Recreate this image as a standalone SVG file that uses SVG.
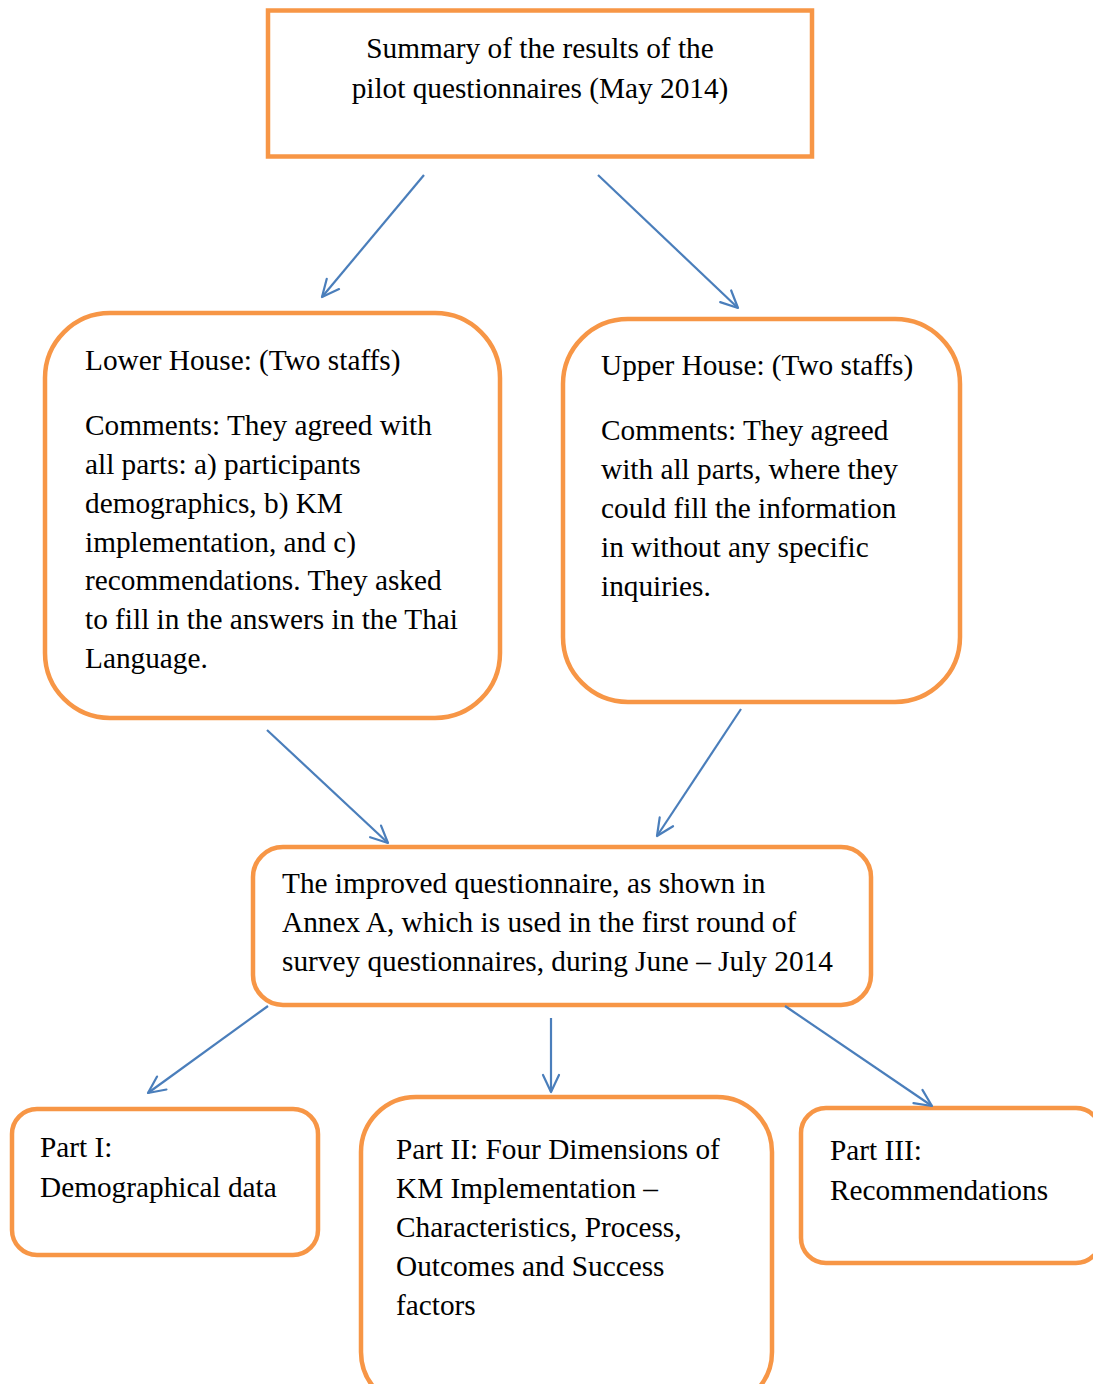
<svg xmlns="http://www.w3.org/2000/svg" width="1093" height="1384" viewBox="0 0 1093 1384">
  <style>
    .box { fill: #ffffff; stroke: #F79646; stroke-width: 4.5; }
    .txt { font-family: "Liberation Serif", "Times New Roman", serif; font-size: 29.3px; fill: #000000; }
    .mid { text-anchor: middle; }
    .conn { stroke: #4A7EBB; stroke-width: 2.2; fill: none; marker-end: url(#arrow); }
  </style>
  <defs>
    <!-- open V arrowhead used on every connector -->
    <marker id="arrow" markerUnits="userSpaceOnUse" markerWidth="22" markerHeight="22" viewBox="0 0 22 22" refX="20" refY="11" orient="auto">
      <path d="M3,3 L20,11 L3,19" fill="none" stroke="#4A7EBB" stroke-width="2.2" stroke-linecap="round" stroke-linejoin="round"/>
    </marker>
  </defs>
  <rect width="1093" height="1384" fill="#ffffff"/>

  <g id="summary">
    <rect class="box" x="268" y="10.5" width="544" height="146"/>
    <text class="txt mid" x="540" y="58">Summary of the results of the</text>
    <text class="txt mid" x="540" y="98">pilot questionnaires (May 2014)</text>
  </g>

  <g id="lower-house">
    <rect class="box" x="45" y="313" width="455" height="405" rx="65" ry="65"/>
    <text class="txt" x="85" y="370">Lower House: (Two staffs)</text>
    <text class="txt" x="85" y="435">Comments: They agreed with</text>
    <text class="txt" x="85" y="474">all parts: a) participants</text>
    <text class="txt" x="85" y="513">demographics, b) KM</text>
    <text class="txt" x="85" y="552">implementation, and c)</text>
    <text class="txt" x="85" y="590">recommendations. They asked</text>
    <text class="txt" x="85" y="629">to fill in the answers in the Thai</text>
    <text class="txt" x="85" y="668">Language.</text>
  </g>

  <g id="upper-house">
    <rect class="box" x="563" y="319" width="397" height="383" rx="65" ry="65"/>
    <text class="txt" x="601" y="375">Upper House: (Two staffs)</text>
    <text class="txt" x="601" y="440">Comments: They agreed</text>
    <text class="txt" x="601" y="479">with all parts, where they</text>
    <text class="txt" x="601" y="518">could fill the information</text>
    <text class="txt" x="601" y="557">in without any specific</text>
    <text class="txt" x="601" y="596">inquiries.</text>
  </g>

  <g id="improved-questionnaire">
    <rect class="box" x="253" y="847" width="618" height="158" rx="30" ry="30"/>
    <text class="txt" x="282" y="893">The improved questionnaire, as shown in</text>
    <text class="txt" x="282" y="932">Annex A, which is used in the first round of</text>
    <text class="txt" x="282" y="971">survey questionnaires, during June – July 2014</text>
  </g>

  <g id="part-1">
    <rect class="box" x="12" y="1109" width="306" height="146" rx="25" ry="25"/>
    <text class="txt" x="40" y="1157">Part I:</text>
    <text class="txt" x="40" y="1197">Demographical data</text>
  </g>

  <g id="part-2">
    <rect class="box" x="361" y="1097" width="411" height="310" rx="55" ry="55"/>
    <text class="txt" x="396" y="1159">Part II: Four Dimensions of</text>
    <text class="txt" x="396" y="1198">KM Implementation –</text>
    <text class="txt" x="396" y="1237">Characteristics, Process,</text>
    <text class="txt" x="396" y="1276">Outcomes and Success</text>
    <text class="txt" x="396" y="1315">factors</text>
  </g>

  <g id="part-3">
    <rect class="box" x="801" y="1108" width="300" height="155" rx="25" ry="25"/>
    <text class="txt" x="830" y="1160">Part III:</text>
    <text class="txt" x="830" y="1200">Recommendations</text>
  </g>

  <g id="connectors">
    <line class="conn" x1="424" y1="175" x2="322" y2="297"/>
    <line class="conn" x1="598" y1="175" x2="738" y2="308"/>
    <line class="conn" x1="267" y1="730" x2="388" y2="843"/>
    <line class="conn" x1="741" y1="709" x2="657" y2="836"/>
    <line class="conn" x1="268" y1="1006" x2="148" y2="1093"/>
    <line class="conn" x1="551" y1="1018" x2="551" y2="1092"/>
    <line class="conn" x1="785" y1="1006" x2="932" y2="1106"/>
  </g>
</svg>
